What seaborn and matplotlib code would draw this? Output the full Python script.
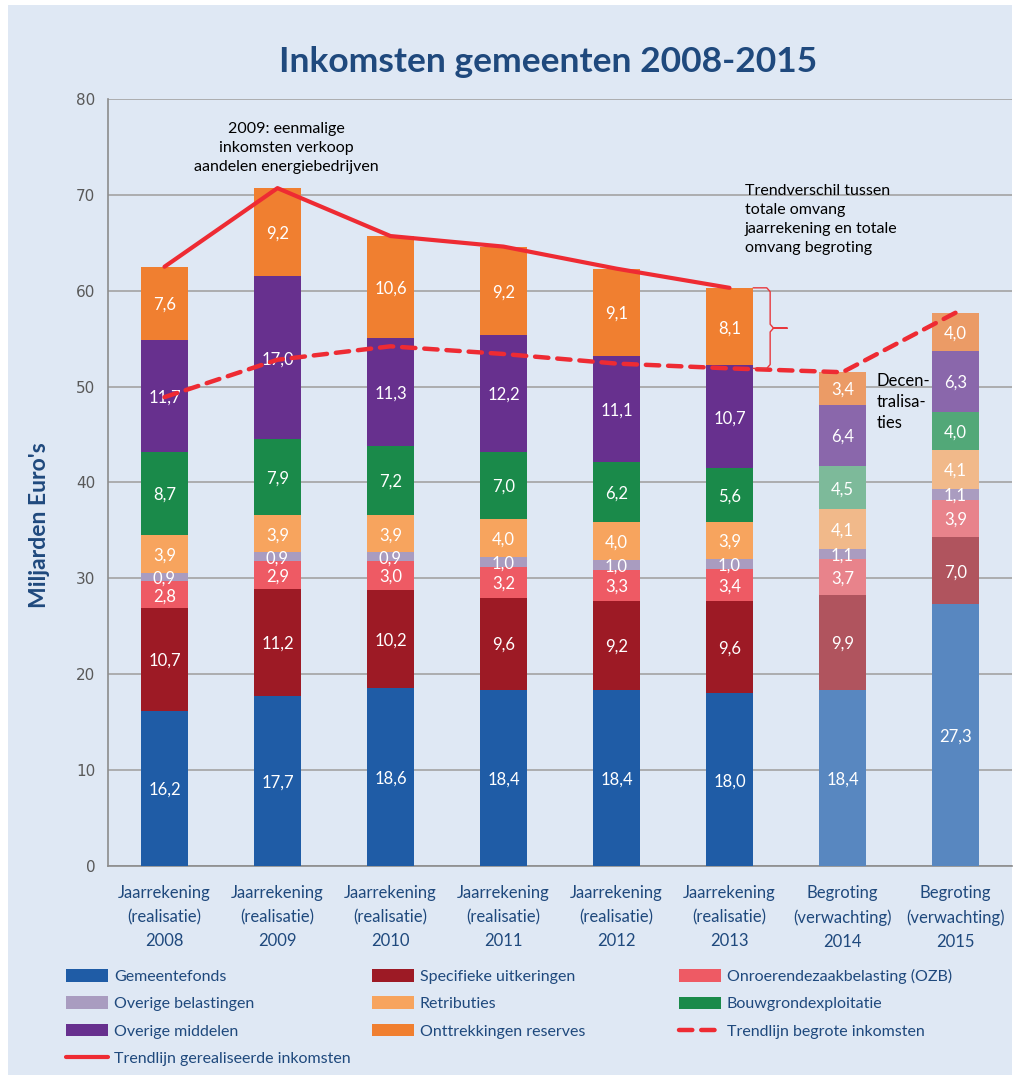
import numpy as np
import matplotlib
matplotlib.use("Agg")
import matplotlib.pyplot as plt
import seaborn as sns
from matplotlib.patches import Patch, Rectangle
from matplotlib.lines import Line2D

# ---- data (miljarden euro) ----
years = ["2008", "2009", "2010", "2011", "2012", "2013", "2014", "2015"]
kinds = ["Jaarrekening\n(realisatie)"] * 6 + ["Begroting\n(verwachting)"] * 2
categories = [f"{k}\n{y}" for k, y in zip(kinds, years)]

gemeentefonds = [16.2, 17.7, 18.6, 18.4, 18.4, 18.0, 18.4, 27.3]
specifieke_uitkeringen = [10.7, 11.2, 10.2, 9.6, 9.2, 9.6, 9.9, 7.0]
ozb = [2.8, 2.9, 3.0, 3.2, 3.3, 3.4, 3.7, 3.9]
overige_belastingen = [0.9, 0.9, 0.9, 1.0, 1.0, 1.0, 1.1, 1.1]
retributies = [3.9, 3.9, 3.9, 4.0, 4.0, 3.9, 4.1, 4.1]
bouwgrondexploitatie = [8.7, 7.9, 7.2, 7.0, 6.2, 5.6, 4.5, 4.0]
overige_middelen = [11.7, 17.0, 11.3, 12.2, 11.1, 10.7, 6.4, 6.3]
onttrekkingen_reserves = [7.6, 9.2, 10.6, 9.2, 9.1, 8.1, 3.4, 4.0]

trend_gerealiseerd = [62.5, 70.7, 65.7, 64.6, 62.3, 60.3]   # 2008-2013
trend_begroot = [48.9, 52.8, 54.2, 53.4, 52.4, 51.9, 51.5, 57.7]

series_names = ["Gemeentefonds", "Specifieke uitkeringen", "Onroerendezaakbelasting (OZB)",
                "Overige belastingen", "Retributies", "Bouwgrondexploitatie",
                "Overige middelen", "Onttrekkingen reserves"]
series_values = [gemeentefonds, specifieke_uitkeringen, ozb, overige_belastingen,
                 retributies, bouwgrondexploitatie, overige_middelen, onttrekkingen_reserves]

# ---- styles ----
BG = "#dfe8f4"
DARK_BLUE = "#1f497d"
RED = "#ee2b33"
GRID = "#a3a3a3"
colors_real = ["#1f5ca6", "#9d1a25", "#ee5a64", "#a99cc0", "#f7a45e", "#1a8a4a", "#67308e", "#f07f30"]
colors_2014 = ["#5887c0", "#b0545e", "#e8838b", "#aa9cc0", "#f1b98a", "#7dba9a", "#8a67ab", "#eb9b66"]
colors_2015 = ["#5887c0", "#b0545e", "#e8838b", "#aa9cc0", "#f1b98a", "#52a878", "#8a67ab", "#eb9b66"]

sns.set_style("white")
plt.rcParams['font.family'] = ['Lato', 'DejaVu Sans']

fig = plt.figure(figsize=(10.14, 10.79), dpi=100, facecolor="white")
fig.add_artist(Rectangle((8 / 1014, 4 / 1079), 1004 / 1014, 1070 / 1079,
                         transform=fig.transFigure, facecolor=BG, edgecolor="none", zorder=-10))
ax = fig.add_axes([0.1065, 0.1974, 0.8915, 0.7109])
ax.set_facecolor("none")

# stacked bars
bottom = np.zeros(len(categories))
for k, vals in enumerate(series_values):
    vals = np.array(vals)
    sns.barplot(x=categories, y=vals, bottom=bottom, color=colors_real[k], width=0.41,
                saturation=1, errorbar=None, linewidth=0, edgecolor="none", ax=ax, zorder=3)
    bars = ax.containers[-1]
    bars[6].set_facecolor(colors_2014[k])
    bars[7].set_facecolor(colors_2015[k])
    for i, v in enumerate(vals):
        ax.text(i, bottom[i] + v / 2, f"{v:.1f}".replace(".", ","), ha="center",
                va="center_baseline", color="white", fontsize=12, zorder=5)
    bottom += vals

# trend lines
ax.plot(np.arange(len(trend_gerealiseerd)), trend_gerealiseerd, color=RED, lw=3,
        solid_capstyle="round", solid_joinstyle="round", zorder=6)
ax.plot(np.arange(len(trend_begroot)), trend_begroot, color=RED, lw=3.2,
        dashes=(3.0, 2.0), dash_capstyle="round", zorder=6)

# brace between the two trends in 2013
top, bot = trend_gerealiseerd[5], trend_begroot[5]
mid = (top + bot) / 2
bx = [5.21, 5.33, 5.36, 5.36, 5.39, 5.51, 5.39, 5.36, 5.36, 5.33, 5.21]
by = [top, top, top - 0.4, mid + 0.4, mid, mid, mid, mid - 0.4, bot + 0.4, bot, bot]
ax.plot(bx, by, color="#e8383d", lw=1.0, zorder=6)

# annotations
ax.text(1.08, 74.9, "2009: eenmalige\ninkomsten verkoop\naandelen energiebedrijven",
        ha="center", va="center", fontsize=11.5, linespacing=1.45, color="black")
ax.text(5.137, 67.4, "Trendverschil tussen\ntotale omvang\njaarrekening en totale\nomvang begroting",
        ha="left", va="center", fontsize=11.5, linespacing=1.45, color="black")
ax.text(6.305, 48.4, "Decen-\ntralisa-\nties", ha="left", va="center", fontsize=12,
        linespacing=1.4, color="black")

# axes styling
ax.set_xlim(-0.5, 7.5)
ax.set_ylim(0, 80)
ax.set_yticks(range(0, 81, 10))
ax.yaxis.grid(True, color=GRID, lw=1.2)
ax.xaxis.grid(False)
ax.set_axisbelow(True)
for s in ["top", "right"]:
    ax.spines[s].set_visible(False)
for s in ["left", "bottom"]:
    ax.spines[s].set_color("#8c8c8c")
    ax.spines[s].set_linewidth(1.2)
ax.tick_params(axis="y", length=5, color="#8c8c8c", labelcolor="#595959", labelsize=11, pad=4)
for lab in ax.get_yticklabels():
    lab.set_fontfamily("DejaVu Sans")
ax.set_xticks(np.arange(len(categories)))
ax.set_xticklabels(categories, color=DARK_BLUE, fontsize=12, linespacing=1.6)
ax.set_xticks(np.arange(-0.5, len(categories)), minor=True)
ax.tick_params(axis="x", which="major", length=0, pad=14)
ax.tick_params(axis="x", which="minor", length=6, color="#8c8c8c", width=1.2)
ax.set_xlabel("")
ax.set_ylabel("")

fig.text(0.541, 0.9425, "Inkomsten gemeenten 2008-2015", ha="center", va="center",
         fontsize=25.5, fontweight="bold", color=DARK_BLUE)
fig.text(0.039, 0.513, "Miljarden Euro's", rotation=90, ha="center", va="center",
         fontsize=16.5, fontweight="bold", color=DARK_BLUE)

# legend, three columns placed separately
patch = lambda c: Patch(facecolor=c, edgecolor="none")
solid_h = Line2D([], [], color=RED, lw=3, solid_capstyle="round")
dash_h = Line2D([], [], color=RED, lw=3.2, dashes=(3.0, 2.0), dash_capstyle="round")
legend_cols = [
    ([patch(colors_real[0]), patch(colors_real[3]), patch(colors_real[6]), solid_h],
     [series_names[0], series_names[3], series_names[6], "Trendlijn gerealiseerde inkomsten"], 66),
    ([patch(colors_real[1]), patch(colors_real[4]), patch(colors_real[7])],
     [series_names[1], series_names[4], series_names[7]], 372),
    ([patch(colors_real[2]), patch(colors_real[5]), dash_h],
     [series_names[2], series_names[5], "Trendlijn begrote inkomsten"], 679),
]
for handles, labels, xpix in legend_cols:
    fig.legend(handles, labels, loc="upper left", bbox_to_anchor=(xpix / 1014, 1 - 969 / 1079),
               frameon=False, fontsize=11.5, labelcolor=DARK_BLUE, handlelength=2.6,
               handleheight=0.85, handletextpad=0.4, labelspacing=0.78, borderpad=0,
               borderaxespad=0)

fig.savefig("out.png", dpi=100, facecolor="white")
